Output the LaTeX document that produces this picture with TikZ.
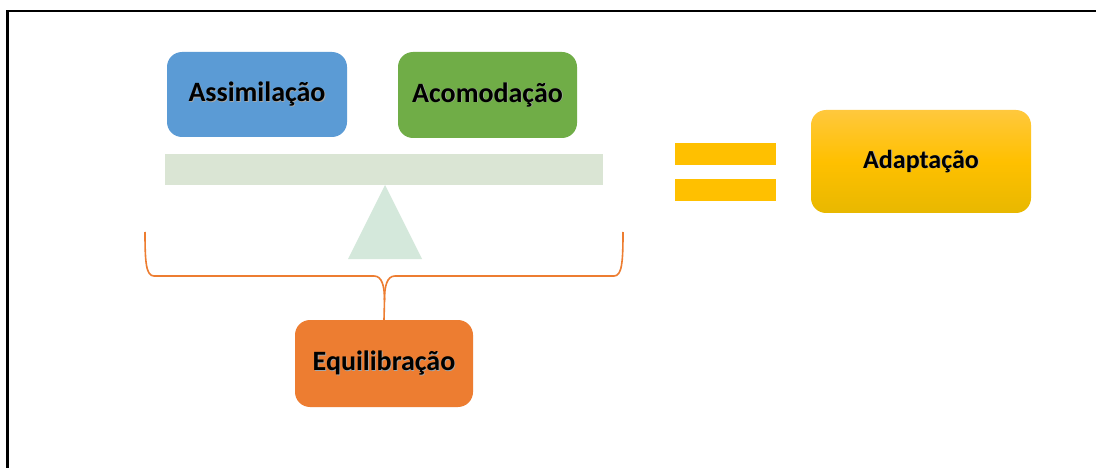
\documentclass[tikz,border=0pt]{standalone}
\usepackage{fontspec}
\setmainfont{Carlito}
\newcommand\shtext[1]{\rlap{\raisebox{-0.8pt}{\hspace{0.8pt}\textcolor{black!35}{#1}}}#1}
\begin{document}
\begin{tikzpicture}[x=1pt,y=-1pt,
  box/.style={rounded corners=15pt, inner sep=0pt, font=\fontsize{28}{32}\selectfont\bfseries, text=black},
  beamstyle/.style={fill=beamgreen, draw=none},
  bracestyle/.style={draw=braceorange, line width=1.6pt},
  bar/.style={fill=eqyellow, draw=none}]
\definecolor{blueA}{HTML}{5B9BD5}
\definecolor{greenA}{HTML}{70AD47}
\definecolor{braceorange}{HTML}{ED7D31}
\definecolor{beamgreen}{HTML}{DAE5D4}
\definecolor{trigreen}{HTML}{D4E8DB}
\definecolor{eqyellow}{HTML}{FFC000}
\definecolor{adtop}{HTML}{FFC83D}
\definecolor{admid}{HTML}{FFC000}
\definecolor{adbot}{HTML}{E8B800}
\useasboundingbox (0,0) rectangle (1096,468);
\fill[white] (0,0) rectangle (1096,468);
% frame
\begin{scope}
\clip (0,0) rectangle (1096,468);
\draw[line width=2.2pt] (7.5,470) -- (7.5,11) -- (1100,11);
\end{scope}
% beam and fulcrum
\fill[beamstyle] (165,154) rectangle (603,185);
\fill[trigreen] (385,185) -- (422,259) -- (348,259) -- cycle;
% boxes
\node[box, fill=blueA, minimum width=180pt, minimum height=85pt] (assim) at (257,94.5) {\shtext{Assimilação}};
\node[box, fill=greenA, minimum width=179pt, minimum height=86pt] (acom) at (487.5,95) {\shtext{Acomodação}};
\node[box, fill=braceorange, minimum width=178pt, minimum height=87pt] (equi) at (384,363.5) {\shtext{Equilibração}};
\node[box, font=\fontsize{26}{30}\selectfont\bfseries, top color=adtop, bottom color=adbot, middle color=admid, minimum width=220pt, minimum height=103pt] (adap) at (921,161.5) {\shtext{Adaptação}};
% equals sign
\fill[bar] (675,143) rectangle (776,165);
\fill[bar] (675,179) rectangle (776,201);
% brace
\coordinate (bl) at (145,232);
\coordinate (br) at (623,232);
\coordinate (cusp) at (384.5,300);
\draw[bracestyle, line join=round] (bl) .. controls (145,262) and (146,276) .. (154,276) -- (374,276) .. controls (382,276) and (384.5,286) .. (cusp) -- (equi.north);
\draw[bracestyle, line join=round] (br) .. controls (623,262) and (622,276) .. (614,276) -- (395,276) .. controls (387,276) and (384.5,286) .. (cusp);
\end{tikzpicture}
\end{document}
